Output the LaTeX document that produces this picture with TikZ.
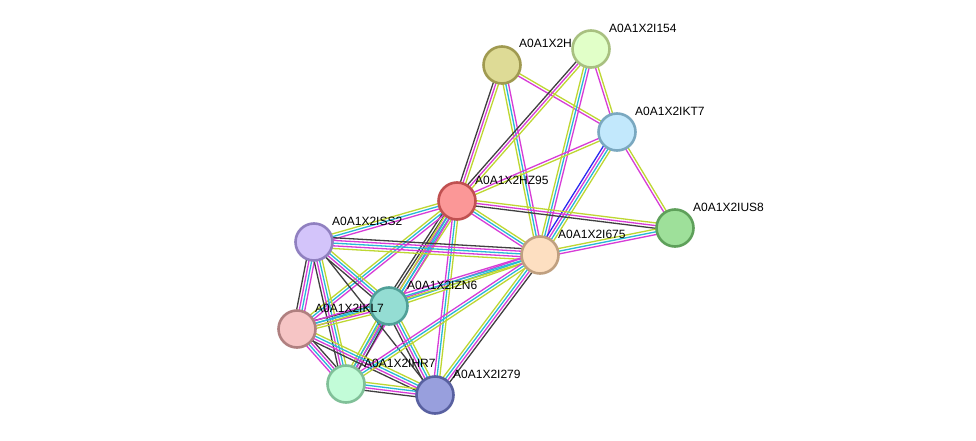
\documentclass[tikz,border=0pt]{standalone}
\usepackage{fontspec}
\setmainfont{Liberation Sans}
\usetikzlibrary{calc}
\pgfdeclarelayer{bgfill}
\pgfdeclarelayer{background}
\pgfdeclarelayer{labels}
\pgfdeclarelayer{toplabels}
\pgfsetlayers{bgfill,background,labels,main,toplabels}
\definecolor{eK}{RGB}{64,64,64}
\definecolor{eM}{RGB}{215,60,215}
\definecolor{eC}{RGB}{40,185,215}
\definecolor{eY}{RGB}{190,215,50}
\definecolor{eB}{RGB}{40,40,240}
\newcommand\stredge[3]{%
  \foreach \cc [count=\ii] in {#3} {\xdef\nnn{\ii}}%
  \foreach \cc [count=\ii] in {#3} {%
    \pgfmathsetmacro\off{(\ii-(\nnn+1)/2)*2.7}%
    \draw[\cc, edgeline] ($(#1.center)!\off pt!90:(#2.center)$) -- ($(#2.center)!\off pt!-90:(#1.center)$);
  }%
}
\tikzset{
  prot/.style={circle, minimum size=37pt, inner sep=0pt, line width=2.6pt},
  edgeline/.style={line width=1.3pt},
  lab/.style={anchor=west, font=\fontsize{12}{14}\selectfont, inner sep=0pt, text=black}
}
\begin{document}
\begin{tikzpicture}[x=1pt,y=-1pt]
\useasboundingbox (0,0) rectangle (976,441);
\begin{pgfonlayer}{bgfill}
\fill[white] (0,0) rectangle (976,441);
\end{pgfonlayer}
% nodes
\node[prot, fill={rgb,255:red,222;green,219;blue,150}, draw={rgb,255:red,160;green,154;blue,80}] (H) at (502,65) {};
\node[prot, fill={rgb,255:red,225;green,255;blue,200}, draw={rgb,255:red,168;green,192;blue,128}] (I154) at (591,49) {};
\node[prot, fill={rgb,255:red,194;green,232;blue,252}, draw={rgb,255:red,122;green,168;blue,192}] (IKT7) at (617,132) {};
\node[prot, fill={rgb,255:red,251;green,151;blue,151}, draw={rgb,255:red,192;green,80;blue,80}] (HZ95) at (457,201) {};
\node[prot, fill={rgb,255:red,158;green,224;blue,154}, draw={rgb,255:red,94;green,160;blue,90}] (IUS8) at (675,228) {};
\node[prot, fill={rgb,255:red,211;green,196;blue,250}, draw={rgb,255:red,144;green,128;blue,192}] (ISS2) at (314,242) {};
\node[prot, fill={rgb,255:red,253;green,223;blue,193}, draw={rgb,255:red,192;green,160;blue,128}] (I675) at (540,255) {};
\node[prot, fill={rgb,255:red,148;green,221;blue,211}, draw={rgb,255:red,80;green,160;blue,152}] (IZN6) at (389,306) {};
\node[prot, fill={rgb,255:red,246;green,197;blue,197}, draw={rgb,255:red,176;green,128;blue,128}] (IKL7) at (297,329) {};
\node[prot, fill={rgb,255:red,194;green,252;blue,216}, draw={rgb,255:red,128;green,192;blue,152}] (IHR7) at (346,384) {};
\node[prot, fill={rgb,255:red,152;green,159;blue,221}, draw={rgb,255:red,88;green,96;blue,160}] (I279) at (435,395) {};
% labels
\begin{pgfonlayer}{labels}
\node[lab] (lH) at (519,43) {A0A1X2H};
\end{pgfonlayer}
\begin{pgfonlayer}{toplabels}
\node[lab] (lI154) at (609,28) {A0A1X2I154};
\node[lab] (lIKT7) at (635,111) {A0A1X2IKT7};
\node[lab] (lHZ95) at (475,180) {A0A1X2HZ95};
\node[lab] (lIUS8) at (693,207) {A0A1X2IUS8};
\node[lab] (lISS2) at (332,221) {A0A1X2ISS2};
\node[lab] (lI675) at (558,234) {A0A1X2I675};
\node[lab] (lIZN6) at (407,285) {A0A1X2IZN6};
\node[lab] (lIKL7) at (315,308) {A0A1X2IKL7};
\node[lab] (lIHR7) at (364,363) {A0A1X2IHR7};
\node[lab] (lI279) at (453,374) {A0A1X2I279};
\end{pgfonlayer}
% edges
\begin{pgfonlayer}{background}
\stredge{H}{HZ95}{eK,eM,eY}
\stredge{H}{I675}{eY,eC,eM}
\stredge{H}{IKT7}{eM,eY}
\stredge{I154}{HZ95}{eK,eM,eY}
\stredge{I154}{I675}{eY,eC,eM}
\stredge{I154}{IKT7}{eM,eY}
\stredge{IKT7}{HZ95}{eM,eY}
\stredge{IKT7}{I675}{eB,eM,eC,eY}
\stredge{IKT7}{IUS8}{eM,eY}
\stredge{HZ95}{IUS8}{eK,eM,eY}
\stredge{I675}{IUS8}{eM,eC,eY}
\stredge{HZ95}{I675}{eM,eC,eY}
\stredge{HZ95}{ISS2}{eY,eC,eM}
\stredge{HZ95}{IZN6}{eK,eK,eM,eC,eY}
\stredge{HZ95}{IKL7}{eY,eC,eM}
\stredge{HZ95}{IHR7}{eY,eC,eM}
\stredge{HZ95}{I279}{eM,eC,eY}
\stredge{ISS2}{I675}{eY,eM,eC,eM,eK}
\stredge{ISS2}{IZN6}{eK,eM,eC,eY}
\stredge{ISS2}{IKL7}{eK,eM,eC,eM}
\stredge{ISS2}{IHR7}{eK,eM,eC,eY}
\stredge{ISS2}{I279}{eK}
\stredge{IZN6}{I675}{eY,eC,eM}
\stredge{IZN6}{IKL7}{eK,eC,eM,eY}
\stredge{IZN6}{IHR7}{eY,eC,eM,eK}
\stredge{IZN6}{I279}{eK,eM,eC,eY}
\stredge{IKL7}{I675}{eY,eC,eM}
\stredge{IKL7}{IHR7}{eM,eC,eM,eK}
\stredge{IKL7}{I279}{eK,eM,eC,eY}
\stredge{IHR7}{I675}{eY,eC,eM}
\stredge{IHR7}{I279}{eK,eM,eC,eY}
\stredge{I279}{I675}{eK,eM,eC,eY}
\end{pgfonlayer}
\end{tikzpicture}
\end{document}
